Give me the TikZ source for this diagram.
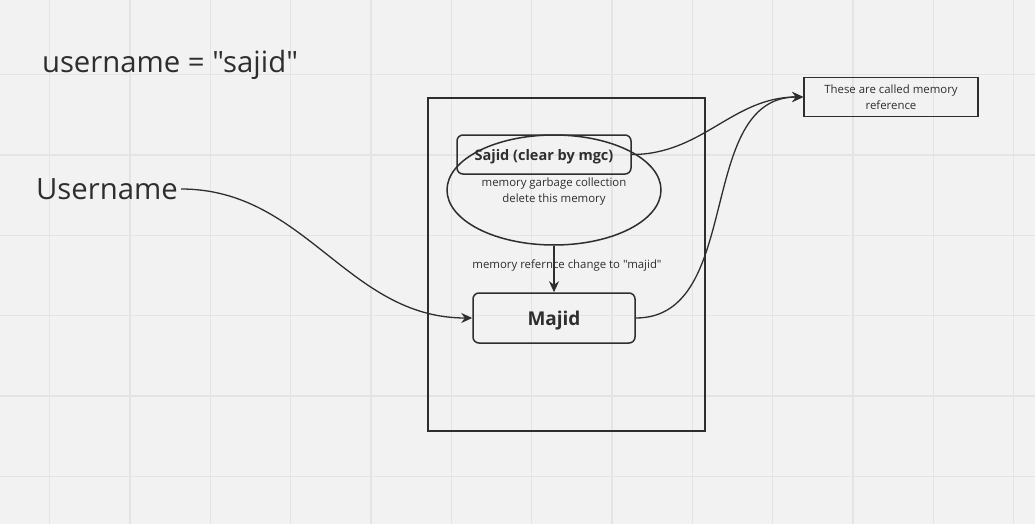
\documentclass[tikz,border=0pt]{standalone}
\usepackage{fontspec}
\newfontfamily\opensans{Open Sans}
\usetikzlibrary{shapes.geometric,arrows.meta}
\definecolor{paper}{HTML}{F2F2F2}
\definecolor{gridline}{HTML}{E4E4E4}
\definecolor{ink}{HTML}{2E2E2E}
\tikzset{
    every node/.style={font=\opensans},
    box/.style={draw=ink, line width=1.5pt, text=ink},
    roundbox/.style={box, rounded corners=6pt},
    link/.style={draw=ink, line width=1.3pt, -{Stealth[length=11pt,width=10pt]}},
    small/.style={text=ink, font=\opensans\fontsize{11.4}{16}\selectfont, align=center}
}
\begin{document}
\begin{tikzpicture}[x=1pt, y=-1pt]
    \useasboundingbox[fill=paper] (0,0) rectangle (1035,524);
    % grid
    \foreach \gx in {49.5,130,210.3,290.6,371,451.3,531.6,612,692.3,772.6,853,933.3,1013.6}
        \draw[gridline, line width=1.2pt] (\gx,0) -- (\gx,524);
    \foreach \gy in {74.5,155,235.3,315.6,396,476.3}
        \draw[gridline, line width=1.2pt] (0,\gy) -- (1035,\gy);

    \node[text=ink, font=\opensans\fontsize{29.3}{31}\selectfont] (assign) at (170,65) {username = "sajid"};
    \node[text=ink, font=\opensans\fontsize{29.3}{31}\selectfont, inner sep=3pt] (username) at (107,189) {Username};

    \draw[box] (428,98) rectangle (705,431);

    \node[roundbox, minimum width=174pt, minimum height=39pt, text height=11.4pt, text depth=0pt,
        font=\opensans\bfseries\fontsize{14.5}{16}\selectfont]
        (sajid) at (544,154.5) {Sajid (clear by mgc)};
    \node[draw=ink, line width=1.5pt, ellipse, minimum width=214pt, minimum height=110pt, inner sep=0pt,
        label={[small, yshift=-2pt]center:{memory garbage collection\\delete this memory}}]
        (gc) at (554,190) {};
    \node[roundbox, minimum width=162pt, minimum height=50pt, text height=15.6pt, text depth=0pt,
        font=\opensans\bfseries\fontsize{19}{21}\selectfont]
        (majid) at (554,318) {Majid};
    \node[box, minimum width=174pt, minimum height=39pt, small]
        (memref) at (891,97) {These are called memory\\reference};

    \draw[link] (gc.south) -- node[small, xshift=13pt, yshift=3pt] {memory refernce change to "majid"} (majid.north);
    \draw[link] (username.east) to[out=0, in=180] (majid.west);
    \draw[link] (sajid.east) to[out=0, in=180] (memref.west);
    \draw[link] (majid.east) to[out=0, in=180] (memref.west);
\end{tikzpicture}
\end{document}
